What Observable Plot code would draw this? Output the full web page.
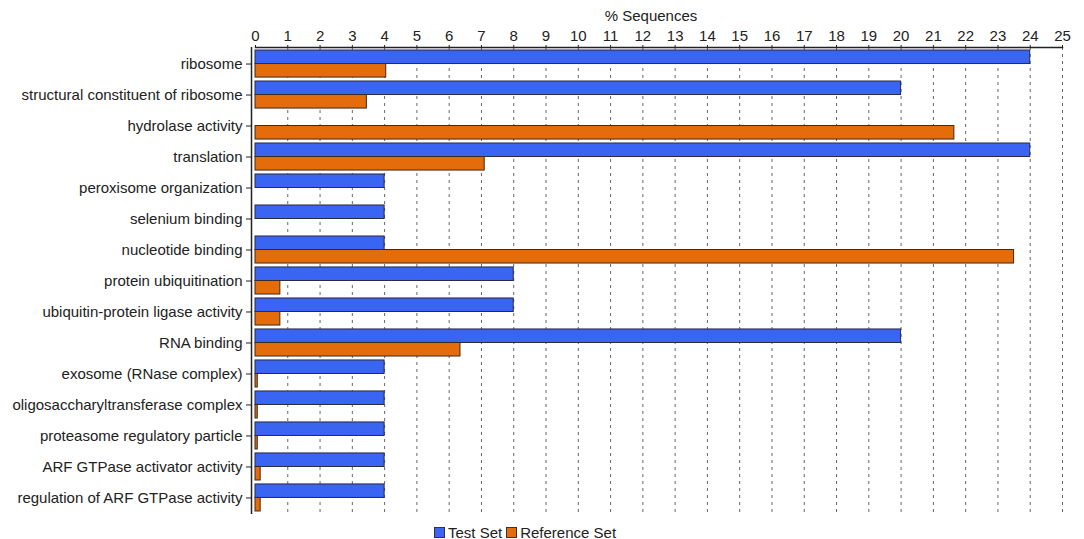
<!DOCTYPE html>
<html>
<head>
<meta charset="utf-8">
<script src="https://cdn.jsdelivr.net/npm/d3@7"></script>
<script src="https://cdn.jsdelivr.net/npm/@observablehq/plot@0.6"></script>
<style>
  html, body { margin: 0; padding: 0; background: #fff; }
  body { width: 1084px; font-family: "Liberation Sans", Arial, Helvetica, sans-serif; color: #222; }
  #chart svg { display: block; }
  #legend {
    height: 19px; line-height: 19px; font-size: 15px; margin-top: 3px;
    display: flex; justify-content: center; align-items: center;
    padding-right: 34px; box-sizing: border-box; width: 1084px;
  }
  #legend .sw { display: inline-block; width: 9px; height: 9px; border: 1px solid #333; margin: 0 3px 0 0; }
  #legend .item { display: inline-flex; align-items: center; margin: 0 2px; }
</style>
</head>
<body>
<div id="chart"></div>
<div id="legend"></div>
<script>
// GO terms, top to bottom
const terms = [
  "ribosome",
  "structural constituent of ribosome",
  "hydrolase activity",
  "translation",
  "peroxisome organization",
  "selenium binding",
  "nucleotide binding",
  "protein ubiquitination",
  "ubiquitin-protein ligase activity",
  "RNA binding",
  "exosome (RNase complex)",
  "oligosaccharyltransferase complex",
  "proteasome regulatory particle",
  "ARF GTPase activator activity",
  "regulation of ARF GTPase activity"
];
// % sequences annotated with each term
const testSet = [24, 20, 0, 24, 4, 4, 4, 8, 8, 20, 4, 4, 4, 4, 4];
const referenceSet = [4.05, 3.45, 21.65, 7.1, 0, 0, 23.5, 0.77, 0.77, 6.35, 0.07, 0.07, 0.07, 0.16, 0.16];
const seriesNames = ["Test Set", "Reference Set"];
const xTicks = d3.range(0, 26);

const colors = {"Test Set": "#3a64f2", "Reference Set": "#e46c0a"};

const rows = terms.map((term, i) => ({term, test: testSet[i], reference: referenceSet[i]}));

// layout
const W = 1084, H = 520, mTop = 47, mBottom = 6, mLeft = 255, mRight = 22;
const padIn = 0.127, padOut = 0.097;
const step = (H - mTop - mBottom) / (terms.length - padIn + 2 * padOut);
const half = step * (1 - padIn) / 2;
const font = '"Liberation Sans", Arial, Helvetica, sans-serif';

const chart = Plot.plot({
  width: W,
  height: H,
  marginTop: mTop,
  marginBottom: mBottom,
  marginLeft: mLeft,
  marginRight: mRight,
  style: {fontFamily: font, fontSize: "15px", color: "#222", background: "#fff"},
  x: {domain: [0, 25]},
  y: {domain: terms, paddingInner: padIn, paddingOuter: padOut, round: false},
  marks: [
    // dashed vertical grid
    Plot.ruleX(xTicks.slice(1), {stroke: "#666", strokeWidth: 1, strokeDasharray: "3,4"}),
    // paired bars: test on top half, reference on bottom half of each band
    Plot.barX(rows, {x: "test", y: "term", fill: colors["Test Set"], stroke: "#2a2a40", strokeWidth: 1, insetBottom: half}),
    Plot.barX(rows, {x: "reference", y: "term", fill: colors["Reference Set"], stroke: "#3a2a20", strokeWidth: 1, insetTop: half}),
    // top axis
    Plot.axisX(xTicks, {anchor: "top", tickSize: 3, tickPadding: 4, label: null, fontSize: 15, stroke: "#222"}),
    Plot.frame({anchor: "top", stroke: "#222", strokeWidth: 1.5}),
    Plot.text(["% Sequences"], {frameAnchor: "top", lineAnchor: "middle", dy: -31, dx: -8, fontSize: 15, fill: "#222"}),
    // left axis
    Plot.axisY({anchor: "left", dx: -4, tickSize: 5, tickPadding: 4, label: null, fontSize: 15, stroke: "#222"}),
    Plot.ruleX([0], {dx: -4, stroke: "#222", strokeWidth: 1.5})
  ]
});
document.getElementById("chart").append(chart);

// legend below the chart
const legend = document.getElementById("legend");
for (const name of seriesNames) {
  const item = document.createElement("span");
  item.className = "item";
  const sw = document.createElement("span");
  sw.className = "sw";
  sw.style.background = colors[name];
  item.append(sw, document.createTextNode(name));
  legend.append(item);
}
</script>
</body>
</html>
